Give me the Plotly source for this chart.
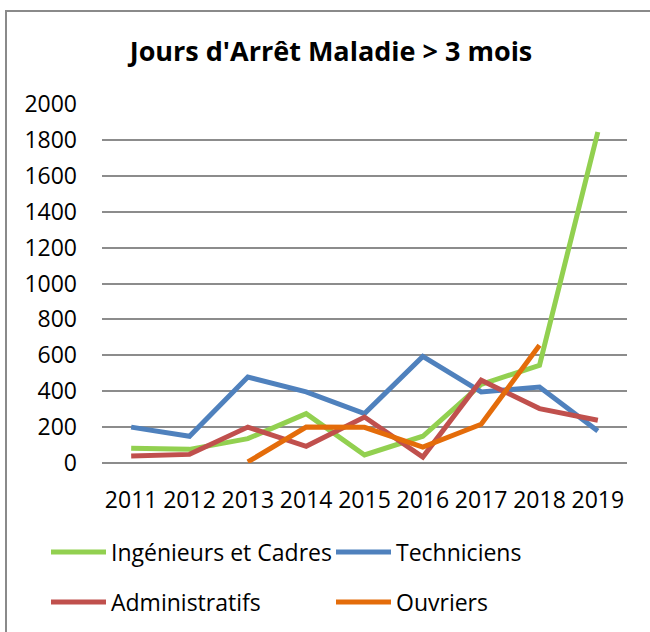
import plotly.graph_objects as go

years = ["2011", "2012", "2013", "2014", "2015", "2016", "2017", "2018", "2019"]
ingenieurs = [82, 76, 136, 275, 45, 149, 438, 544, 1844]
techniciens = [200, 149, 479, 396, 275, 594, 396, 423, 178]
administratifs = [39, 48, 200, 93, 256, 33, 461, 303, 238]
ouvriers = [None, None, 6, 200, 199, 89, 216, 656, None]
y_ticks = [0, 200, 400, 600, 800, 1000, 1200, 1400, 1600, 1800, 2000]

FONT = "Open Sans"
FS = 23
fig = go.Figure()
series = [
    ("Ingénieurs et Cadres", ingenieurs, "#92D050", "legend"),
    ("Techniciens", techniciens, "#4F81BD", "legend"),
    ("Administratifs", administratifs, "#C0504D", "legend2"),
    ("Ouvriers", ouvriers, "#E46C0A", "legend2"),
]
for name, vals, color, lg in series:
    fig.add_trace(go.Scatter(
        x=years, y=vals, name=name, mode="lines",
        line=dict(color=color, width=5),
        legend=lg, connectgaps=False,
    ))

W, H = 650, 632
L, R, T, B = 102, 23, 104, 169
pw, ph = W - L - R, H - T - B

def px_x(p):
    return (p - L) / pw

def px_y(p):
    return (H - B - p) / ph

legend_common = dict(
    orientation="h", xanchor="left", yanchor="middle",
    font=dict(family=FONT, size=FS, color="#000000"),
    itemwidth=55, entrywidth=215, entrywidthmode="pixels",
    bgcolor="rgba(0,0,0,0)", tracegroupgap=0,
)

fig.update_layout(
    width=W, height=H,
    margin=dict(l=L, r=R, t=T, b=B, autoexpand=False),
    paper_bgcolor="white", plot_bgcolor="white",
    font=dict(family=FONT, size=FS, color="#000000"),
    title=dict(
        text="<b>Jours d'Arrêt Maladie > 3 mois</b>",
        font=dict(family=FONT, size=27, color="#000000"),
        x=331 / W, xref="container", xanchor="center",
        y=1 - 52 / H, yref="container", yanchor="middle",
    ),
    xaxis=dict(
        type="category", range=[-0.5, 8.5],
        showgrid=False, showline=False, zeroline=False,
        ticks="", tickfont=dict(family=FONT, size=FS, color="#000000"),
        ticklabelstandoff=21,
    ),
    yaxis=dict(
        range=[0, 2000], tickvals=y_ticks,
        showgrid=True, gridcolor="#8C8C8C", gridwidth=1.5,
        zeroline=True, zerolinecolor="#8C8C8C", zerolinewidth=1.5,
        showline=False, ticks="",
        tickfont=dict(family=FONT, size=FS, color="#000000"),
        ticklabelstandoff=24,
    ),
    legend=dict(x=px_x(46), y=px_y(552), **legend_common),
    legend2=dict(x=px_x(46), y=px_y(602), **legend_common),
    shapes=[dict(
        type="rect", xref="paper", yref="paper",
        x0=px_x(6), x1=px_x(660), y0=px_y(660), y1=px_y(11),
        line=dict(color="#8A8A8A", width=2), fillcolor="rgba(0,0,0,0)",
        layer="below",
    )],
)

fig.write_html(
    "out.html",
    config={"displayModeBar": False},
    post_script="document.body.style.margin='0';",
)
